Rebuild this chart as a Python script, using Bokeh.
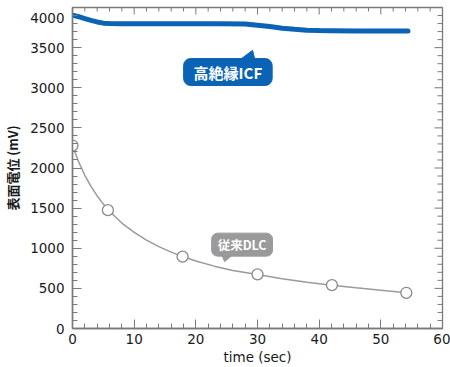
from bokeh.plotting import figure
from bokeh.models import Range1d, SingleIntervalTicker, Label
from bokeh.embed import file_html
from bokeh.resources import INLINE

# ---- data ----
icf_x = [0, 1, 2, 3, 4, 5, 6, 8, 12, 16, 20, 24, 28, 30, 32, 34, 36, 38, 40, 42, 46, 50, 54.4]
icf_y = [3905, 3885, 3862, 3840, 3820, 3805, 3800, 3797, 3797, 3797, 3797, 3797, 3795, 3780,
         3762, 3742, 3728, 3718, 3712, 3710, 3708, 3708, 3708]

dlc_x = [0, 5.74, 17.85, 30.0, 42.07, 54.13]
dlc_y = [2280, 1475, 895, 675, 541, 445]

dlc_curve_x = [0, 1, 2, 3, 4, 5, 6, 8, 10, 12, 14, 16, 18, 20, 23, 26, 30, 34, 38, 42, 46, 50, 54.13]
dlc_curve_y = [2280, 2076, 1909, 1770, 1652, 1550, 1461, 1314, 1197, 1101, 1020, 952, 893, 842,
               777, 724, 672, 620, 575, 540, 507, 477, 445]

x_title = "time (sec)"
y_title = "表面電位 (mV)"
icf_label = "高絶縁ICF"
dlc_label = "従来DLC"

X_MIN, X_MAX, X_MAJOR, X_MINOR = 0, 60, 10, 2
Y_MIN, Y_MAX, Y_MAJOR, Y_MINOR = 0, 4000, 500, 100

BLUE = "#0b63b6"
GRAY = "#9a9a9a"
AXIS = "#7a7a7a"
FONT = "DejaVu Sans"
CJK = "Noto Sans CJK JP"

p = figure(width=450, height=367, output_backend="svg", toolbar_location=None,
           x_range=Range1d(X_MIN, X_MAX), y_range=Range1d(Y_MIN, Y_MAX),
           min_border_top=7, min_border_right=8, min_border_bottom=0, min_border_left=68)
p.outline_line_color = AXIS
p.outline_line_width = 1.3
p.xgrid.visible = False
p.ygrid.visible = False
p.background_fill_color = "white"
p.border_fill_color = "white"

def style(ax, ticker):
    ax.ticker = ticker
    ax.axis_line_color = AXIS
    ax.axis_line_width = 1.5
    ax.major_tick_line_color = AXIS
    ax.minor_tick_line_color = AXIS
    ax.major_tick_out = 0
    ax.minor_tick_out = 0
    ax.major_tick_in = 9
    ax.minor_tick_in = 5
    ax.major_label_text_font = FONT
    ax.major_label_text_font_size = "13.5px"
    ax.major_label_text_color = "#1a1a1a"

xa = p.xaxis[0]
style(xa, SingleIntervalTicker(interval=X_MAJOR, num_minor_ticks=X_MAJOR // X_MINOR))
xa.major_label_standoff = 5
xa.axis_label = x_title
xa.axis_label_text_font = FONT
xa.axis_label_text_font_size = "13.5px"
xa.axis_label_text_font_style = "normal"
xa.axis_label_text_color = "#1a1a1a"
xa.axis_label_standoff = 2

ya = p.yaxis[0]
style(ya, SingleIntervalTicker(interval=Y_MAJOR, num_minor_ticks=Y_MAJOR // Y_MINOR))
ya.major_label_standoff = 8
# the top label sits a little below its tick in the reference
ya.major_label_overrides = {Y_MAX: "\n4000"}
ya.major_label_text_line_height = 0.6
ya.axis_label = y_title
ya.axis_label_text_font = CJK
ya.axis_label_text_font_size = "13px"
ya.axis_label_text_font_style = "bold"
ya.axis_label_text_color = "#1a1a1a"
ya.axis_label_standoff = 5

# inward ticks on the top and right edges of the frame
top_ticks = list(range(X_MIN, X_MAX + 1, X_MINOR))
right_ticks = list(range(Y_MIN, Y_MAX + 1, Y_MINOR))
p.ray(x=top_ticks, y=[Y_MAX] * len(top_ticks),
      length=[7 if t % X_MAJOR == 0 else 4 for t in top_ticks], length_units="screen",
      angle=-90, angle_units="deg", line_color=AXIS, line_width=1)
p.ray(x=[X_MAX] * len(right_ticks), y=right_ticks,
      length=[8 if t % Y_MAJOR == 0 else 5 for t in right_ticks], length_units="screen",
      angle=180, angle_units="deg", line_color=AXIS, line_width=1)

# ---- series ----
p.line(icf_x, icf_y, line_color=BLUE, line_width=5, line_cap="round", line_join="round")

p.line(dlc_curve_x, dlc_curve_y, line_color=GRAY, line_width=1.5)
p.scatter(dlc_x, dlc_y, size=11, marker="circle", fill_color="white",
          line_color="#8a8a8a", line_width=1.3)

# ---- callouts ----
p.patch([27.0, 29.2, 29.6], [3340, 3466, 3340], fill_color=BLUE, line_color=BLUE)
p.add_layout(Label(x=25.2, y=3196, text=icf_label, text_align="center", text_baseline="middle",
                   text_font=CJK, text_font_size="15px", text_font_style="bold",
                   text_color="white", background_fill_color=BLUE,
                   border_line_color=BLUE, border_radius=7,
                   padding=dict(left=10, right=10, top=3, bottom=3)))

p.patch([24.0, 24.66, 26.6], [960, 833, 960], fill_color=GRAY, line_color=GRAY)
p.add_layout(Label(x=27.5, y=1045, text=dlc_label, text_align="center", text_baseline="middle",
                   text_font=CJK, text_font_size="12.5px", text_font_style="bold",
                   text_color="white", background_fill_color=GRAY,
                   border_line_color=GRAY, border_radius=6,
                   padding=dict(left=6, right=6, top=2, bottom=2)))

open("out.html", "w").write(file_html(p, INLINE))
